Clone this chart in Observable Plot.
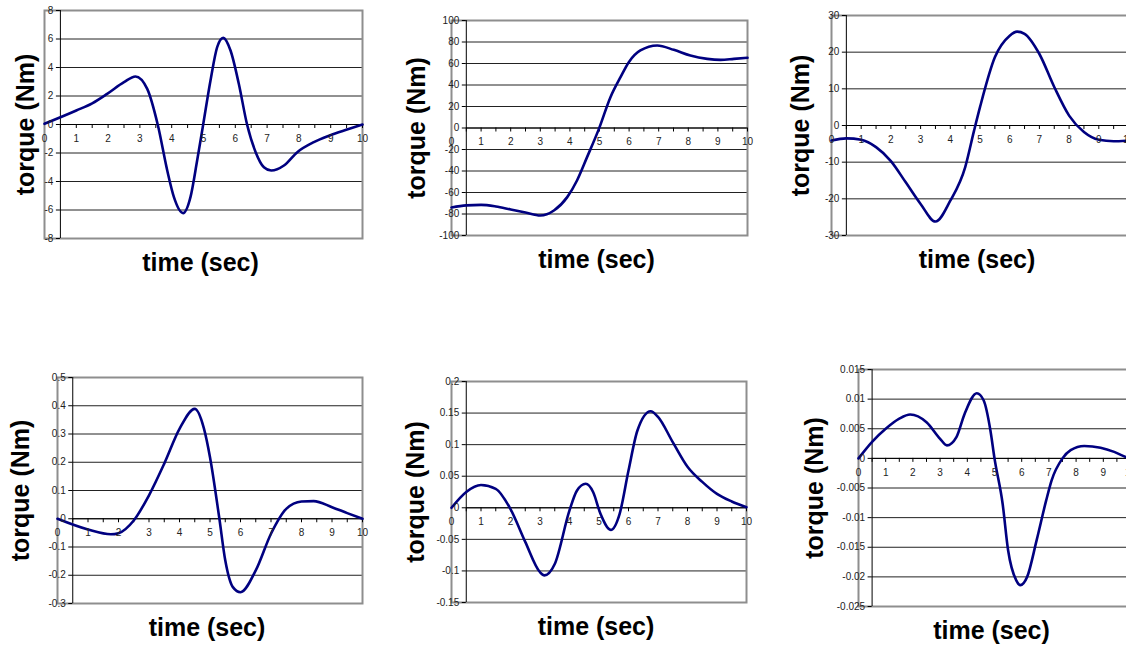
<!DOCTYPE html>
<html><head><meta charset="utf-8">
<script src="https://cdn.jsdelivr.net/npm/d3@7"></script>
<script src="https://cdn.jsdelivr.net/npm/@observablehq/plot@0.6"></script>
<style>
html,body{margin:0;padding:0;background:#fff;}
#wrap{position:relative;width:1126px;height:645px;overflow:hidden;background:#fff;}
#wrap > .pnl{position:absolute;}
#wrap svg{max-width:none !important;}
</style></head><body><div id="wrap"></div>
<script>
// ---- texts and tick labels ----
const xTitle = "time (sec)";
const yTitle = "torque (Nm)";
const xTickLabels = [0,1,2,3,4,5,6,7,8,9,10];
const xTickMarks = [0.5,1,1.5,2,2.5,3,3.5,4,4.5,5,5.5,6,6.5,7,7.5,8,8.5,9,9.5,10];
const yTicks1 = [-8,-6,-4,-2,0,2,4,6,8];
const yTicks2 = [-100,-80,-60,-40,-20,0,20,40,60,80,100];
const yTicks3 = [-30,-20,-10,0,10,20,30];
const yTicks4 = [-0.3,-0.2,-0.1,0,0.1,0.2,0.3,0.4,0.5];
const yTicks5 = [-0.15,-0.1,-0.05,0,0.05,0.1,0.15,0.2];
const yTicks6 = [-0.025,-0.02,-0.015,-0.01,-0.005,0,0.005,0.01,0.015];

// ---- series: time (sec) and torque (Nm) ----
const time1 = [0,1.0,1.5,1.97,2.5,2.86,3.23,3.56,3.86,4.07,4.36,4.59,4.8,4.99,5.22,5.43,5.62,5.85,6.11,6.37,6.64,6.9,7.13,7.53,7.95,8.47,8.97,9.49,10];
const torque1 = [0.05,0.98,1.49,2.15,2.97,3.37,2.5,0,-3.23,-5.1,-6.22,-5.1,-2.53,0,3.09,5.43,6.08,5.19,2.86,0,-1.94,-3.0,-3.23,-2.88,-1.94,-1.24,-0.77,-0.37,0];

const time2 = [0,0.5,1,1.5,2,2.5,3,3.46,3.91,4.24,4.58,4.98,5.37,5.71,5.99,6.38,6.95,7.51,8.07,8.64,9.09,9.54,10];
const torque2 = [-74,-72,-71.5,-73,-75.8,-78.6,-81.4,-76.7,-64.3,-48.8,-27.1,-0.8,28.7,47.3,61.2,72.1,76.7,72.7,67.4,64.3,63.4,64.3,65.3];

const time3 = [0,0.5,1,1.5,2,2.5,3,3.5,4,4.5,4.8,5,5.5,6,6.25,6.5,7,7.5,8,8.5,9,9.5,10];
const torque3 = [-4.1,-3.5,-3.9,-5.9,-9.7,-15.5,-21.4,-26.2,-20.5,-11.4,-1.4,5,18.6,24.5,25.6,25,19.5,10.5,2.7,-1.8,-3.9,-4.3,-4.1];

const time4 = [0,1,1.75,2,2.5,3,3.5,4,4.5,4.8,5,5.3,5.5,5.75,6,6.5,7,7.5,8,8.4,9,9.5,10];
const torque4 = [0,-0.038,-0.055,-0.051,-0.006,0.083,0.195,0.318,0.389,0.32,0.218,0.006,-0.147,-0.242,-0.26,-0.183,-0.053,0.035,0.061,0.0625,0.041,0.02,0];

const time5 = [0,0.5,1,1.5,2,2.5,3,3.15,3.5,4,4.25,4.55,4.8,5.05,5.4,5.7,6,6.3,6.75,7,7.5,8,8.5,9,9.5,10];
const torque5 = [0,0.025,0.036,0.03,-0.002,-0.054,-0.102,-0.107,-0.089,-0.004,0.027,0.038,0.025,-0.0095,-0.035,-0.0095,0.059,0.122,0.153,0.144,0.104,0.065,0.041,0.022,0.01,0.001];

const time6 = [0,0.5,1,1.5,1.9,2.5,3,3.25,3.6,3.9,4.35,4.6,4.85,5,5.3,5.5,5.8,5.95,6.2,6.55,6.9,7.1,7.5,7.8,8.3,8.9,9.4,9.85,10];
const torque6 = [0,0.0028,0.005,0.0067,0.0074,0.0061,0.0033,0.0022,0.0036,0.0075,0.011,0.0098,0.0047,0,-0.0077,-0.0155,-0.0206,-0.0214,-0.02,-0.0138,-0.0071,-0.0037,0,0.0014,0.0021,0.0018,0.0011,0.0002,0];

// ---- layout (pixel placement of each plot frame) ----
const yAxisAt = 0.5;
const layout = [
  {time: time1, torque: torque1, ticks: yTicks1, x0: 44,  x10: 362,  top: 10,  bottom: 238, titleGap: 19},
  {time: time2, torque: torque2, ticks: yTicks2, x0: 451, x10: 747,  top: 20,  bottom: 235, titleGap: 35},
  {time: time3, torque: torque3, ticks: yTicks3, x0: 831, x10: 1128, top: 15,  bottom: 235, titleGap: 31},
  {time: time4, torque: torque4, ticks: yTicks4, x0: 57,  x10: 362,  top: 377, bottom: 603, titleGap: 37},
  {time: time5, torque: torque5, ticks: yTicks5, x0: 451, x10: 746,  top: 381, bottom: 602, titleGap: 36},
  {time: time6, torque: torque6, ticks: yTicks6, x0: 858, x10: 1130, top: 369, bottom: 606, titleGap: 44}
];

const fmt = d => String(+d.toFixed(6));
const wrap = document.getElementById("wrap");
const mL = 80, mR = 24, mT = 10, mB = 45;

for (const cfg of layout) {
  const iw = cfg.x10 - cfg.x0, ih = cfg.bottom - cfg.top;
  const W = mL + iw + mR, H = mT + ih + mB;
  const data = cfg.time.map((t, i) => ({t, v: cfg.torque[i]}));
  const ymin = cfg.ticks[0], ymax = cfg.ticks[cfg.ticks.length - 1];
  const chart = Plot.plot({
    width: W,
    height: H,
    marginLeft: mL, marginRight: mR, marginTop: mT, marginBottom: mB,
    style: {background: "transparent", fontFamily: "'Liberation Sans', Arial, sans-serif", overflow: "visible", maxWidth: "none"},
    x: {domain: [0, 10], axis: null},
    y: {domain: [ymin, ymax], axis: null},
    marks: [
      Plot.ruleY(cfg.ticks.slice(1, -1), {x1: yAxisAt, x2: 10, stroke: "#222", strokeWidth: 1}),
      Plot.frame({stroke: "#8e8e8e", strokeWidth: 2}),
      Plot.ruleX([yAxisAt], {stroke: "#000", strokeWidth: 1}),
      Plot.ruleY(cfg.ticks, {x1: yAxisAt, x2: yAxisAt, insetLeft: -4, stroke: "#000"}),
      Plot.ruleY([0], {x1: yAxisAt, x2: 10, stroke: "#000", strokeWidth: 1}),
      Plot.ruleX(xTickMarks, {x: d => d, y1: 0, y2: 0, insetBottom: -4, stroke: "#000"}),
      Plot.line(data, {x: "t", y: "v", stroke: "#000080", strokeWidth: 2.6, curve: "monotone-x"}),
      Plot.text(cfg.ticks, {x: yAxisAt, y: d => d, text: fmt, textAnchor: "end", dx: -7, fontSize: 10, fill: "#222"}),
      Plot.text(xTickLabels, {x: d => d, y: 0, text: d => String(d), dy: 14, fontSize: 10, fill: "#222"}),
      Plot.text([xTitle], {text: d => d, frameAnchor: "bottom", lineAnchor: "middle", textAnchor: "middle", dy: 24, dx: -3, fontSize: 25, fontWeight: "bold", fill: "#000"}),
      Plot.text([yTitle], {text: d => d, frameAnchor: "left", lineAnchor: "middle", textAnchor: "middle", rotate: -90, dx: -cfg.titleGap, fontSize: 25, fontWeight: "bold", fill: "#000"})
    ]
  });
  chart.style.maxWidth = "none";
  chart.style.width = W + "px";
  chart.style.height = H + "px";
  const div = document.createElement("div");
  div.className = "pnl";
  div.style.left = (cfg.x0 - mL) + "px";
  div.style.top = (cfg.top - mT) + "px";
  div.style.width = W + "px";
  div.style.height = H + "px";
  div.appendChild(chart);
  wrap.appendChild(div);
}
</script>
</body></html>
